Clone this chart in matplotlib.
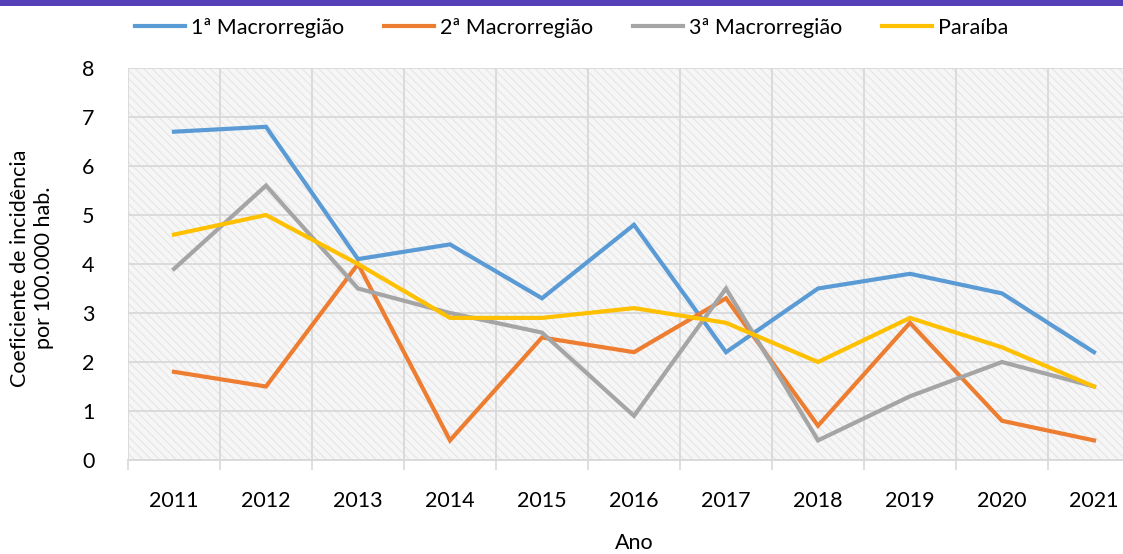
import matplotlib
matplotlib.use("Agg")
import matplotlib.pyplot as plt
from matplotlib.patches import Rectangle
from matplotlib.lines import Line2D

years = ["2011", "2012", "2013", "2014", "2015", "2016", "2017", "2018", "2019", "2020", "2021"]
macro1 = [6.7, 6.8, 4.1, 4.4, 3.3, 4.8, 2.2, 3.5, 3.8, 3.4, 2.2]
macro2 = [1.8, 1.5, 4.0, 0.4, 2.5, 2.2, 3.3, 0.7, 2.8, 0.8, 0.4]
macro3 = [3.9, 5.6, 3.5, 3.0, 2.6, 0.9, 3.5, 0.4, 1.3, 2.0, 1.5]
paraiba = [4.6, 5.0, 4.0, 2.9, 2.9, 3.1, 2.8, 2.0, 2.9, 2.3, 1.5]
series_names = ["1ª Macrorregião", "2ª Macrorregião", "3ª Macrorregião", "Paraíba"]
colors = ["#5B9BD5", "#ED7D31", "#A5A5A5", "#FFC000"]

plt.rcParams['font.family'] = ['Lato', 'DejaVu Sans']
plt.rcParams['hatch.linewidth'] = 0.7
FS = 15.5

W, H = 1123, 554
fig = plt.figure(figsize=(W / 100, H / 100), dpi=100)

# purple top bar
fig.patches.append(Rectangle((0, 1 - 6 / H), 1, 6 / H, transform=fig.transFigure,
                             facecolor="#5540B8", edgecolor="none", zorder=0))

left, right, top, bottom = 128, 1140, 68, 460
ax = fig.add_axes([left / W, 1 - bottom / H, (right - left) / W, (bottom - top) / H])
ax.set_facecolor("#f6f6f6")
ax.add_patch(Rectangle((0, 0), 1, 1, transform=ax.transAxes, facecolor="none",
                       edgecolor="#e4e4e4", hatch="\\\\\\\\", linewidth=0, zorder=0))

x = list(range(len(years)))
for vals, c in zip([macro1, macro2, macro3, paraiba], colors):
    ax.plot(x, vals, color=c, linewidth=3.0, solid_joinstyle="miter", zorder=3)

ax.set_xlim(-0.5, len(years) - 0.5)
ax.set_ylim(0, 8)
ax.set_yticks(range(0, 9))
ax.set_xticks([i + 0.5 for i in range(-1, len(years))], minor=False)
ax.set_xticklabels([])
ax.set_xticks(x, minor=True)
ax.set_xticklabels(years, minor=True)
ax.tick_params(axis="x", which="major", length=7, color="#d9d9d9", width=1.2)
ax.tick_params(axis="x", which="minor", length=0, pad=22, labelsize=FS)
ax.tick_params(axis="y", length=0, pad=24, labelsize=FS)
ax.grid(True, which="major", color="#d9d9d9", linewidth=1.3, zorder=1)
ax.set_axisbelow(True)
for s in ["top", "right", "left"]:
    ax.spines[s].set_visible(False)
ax.spines["bottom"].set_color("#d9d9d9")
ax.spines["bottom"].set_linewidth(1.3)

ax.set_xlabel("Ano", fontsize=FS, labelpad=16)
fig.text(32 / W, 1 - 268 / H, "Coeficiente de incidência\npor 100.000 hab.", rotation=90,
         ha="center", va="center", fontsize=FS, linespacing=1.2)

handles = [Line2D([0], [0], color=c, linewidth=3.0) for c in colors]
fig.legend(handles, series_names, loc="center", bbox_to_anchor=(572 / W, 1 - 28 / H),
           ncol=4, frameon=False, fontsize=FS, handlelength=2.3, columnspacing=1.85,
           handletextpad=0.3)

fig.savefig("out.png", dpi=100)
